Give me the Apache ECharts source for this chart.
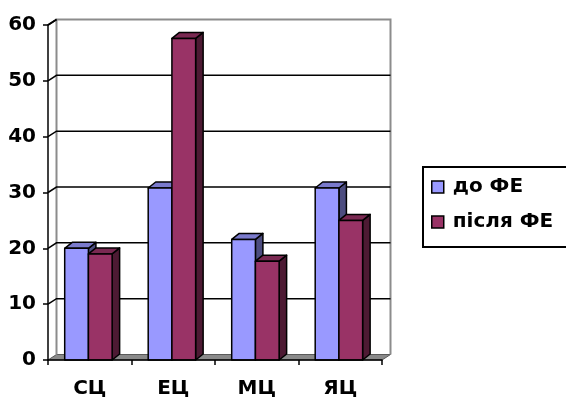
<!DOCTYPE html>
<html>
<head>
<meta charset="utf-8">
<script src="https://cdn.jsdelivr.net/npm/echarts@6/dist/echarts.min.js"></script>
<style>
  html, body { margin: 0; padding: 0; background: #fff; }
  #chart { width: 566px; height: 399px; }
</style>
</head>
<body>
<div id="chart"></div>
<script>
// Categories and the two measurement series
const categories = ['СЦ', 'ЕЦ', 'МЦ', 'ЯЦ'];
const seriesNames = ['до ФЕ', 'після ФЕ'];
const beforeValues = [20, 30.8, 21.6, 30.8];
const afterValues = [19, 57.6, 17.7, 25];
const yTicks = [0, 10, 20, 30, 40, 50, 60];

// Colours: front face, top face, side face
const palettes = [
  { front: '#9999ff', top: '#7a7acc', side: '#4d4d80' },
  { front: '#993366', top: '#7a2952', side: '#4d1a33' }
];

const FONT = 'DejaVu Sans';
const WALL_DX = 8.5, WALL_DY = -5.5;   // depth of the walls / floor
const BAR_DX = 7.5, BAR_DY = -6;       // depth of each column

const chart = echarts.init(document.getElementById('chart'), null, { renderer: 'canvas' });

// Back wall, left wall, floor and gridlines
function renderWalls(params, api) {
  const cs = params.coordSys;
  const v = api.value(0);
  const y = api.coord([0, v])[1];
  const xl = cs.x, xr = cs.x + cs.width;
  const children = [];
  if (v === 0) {
    const yt = cs.y;
    // floor
    children.push({
      type: 'polygon',
      shape: { points: [[xl, y], [xr, y], [xr + WALL_DX, y + WALL_DY], [xl + WALL_DX, y + WALL_DY]] },
      style: { fill: '#8a8a8a', stroke: '#5a5a5a', lineWidth: 1 }
    });
    // wall outline (grey)
    children.push({
      type: 'polyline',
      shape: { points: [[xl + WALL_DX, y + WALL_DY], [xl + WALL_DX, yt + WALL_DY], [xr + WALL_DX, yt + WALL_DY], [xr + WALL_DX, y + WALL_DY]] },
      style: { fill: null, stroke: '#8c8c8c', lineWidth: 2 }
    });
    children.push({
      type: 'line',
      shape: { x1: xl, y1: yt, x2: xl + WALL_DX, y2: yt + WALL_DY },
      style: { stroke: '#222', lineWidth: 1.5 }
    });
  } else {
    const pts = [[xl, y], [xl + WALL_DX, y + WALL_DY]];
    if (v < 60) pts.push([xr + WALL_DX, y + WALL_DY]);
    children.push({
      type: 'polyline',
      shape: { points: pts },
      style: { fill: null, stroke: '#000', lineWidth: 1.5 }
    });
  }
  return { type: 'group', children };
}

// 3D column: front, top and side faces from the axis scales
function makeBarRenderer(si) {
  return function (params, api) {
    const ci = api.value(0), v = api.value(1);
    const base = api.coord([ci, 0]);
    const top = api.coord([ci, v]);
    const band = api.size([1, 0])[0];
    const w = band * 0.284;
    const x0 = base[0] - band * 0.016 - (si === 0 ? w : 0);
    const ty = top[1], by = base[1];
    const p = palettes[si];
    const st = { stroke: '#000', lineWidth: 1.5, lineJoin: 'round' };
    return {
      type: 'group',
      children: [
        { type: 'polygon', shape: { points: [[x0 + w, ty], [x0 + w + BAR_DX, ty + BAR_DY], [x0 + w + BAR_DX, by + BAR_DY], [x0 + w, by]] },
          style: Object.assign({ fill: p.side }, st) },
        { type: 'polygon', shape: { points: [[x0, ty], [x0 + BAR_DX, ty + BAR_DY], [x0 + w + BAR_DX, ty + BAR_DY], [x0 + w, ty]] },
          style: Object.assign({ fill: p.top }, st) },
        { type: 'polygon', shape: { points: [[x0, ty], [x0 + w, ty], [x0 + w, by], [x0, by]] },
          style: Object.assign({ fill: p.front }, st) }
      ]
    };
  };
}

const valueSets = [beforeValues, afterValues];

const option = {
  backgroundColor: '#ffffff',
  animation: false,
  grid: { left: 48, top: 25, width: 334, height: 336, containLabel: false },
  xAxis: {
    type: 'category',
    data: categories,
    boundaryGap: true,
    axisLine: { lineStyle: { color: '#000', width: 1.5 } },
    axisTick: { show: true, length: 5, lineStyle: { color: '#000', width: 1.5 } },
    axisLabel: { color: '#000', fontFamily: FONT, fontWeight: 'bold', fontSize: 20, margin: 19 },
    splitLine: { show: false },
    z: 5
  },
  yAxis: {
    type: 'value',
    min: 0, max: 60, interval: 10,
    axisLine: { show: true, lineStyle: { color: '#000', width: 1.5 } },
    axisTick: { show: true, length: 5, lineStyle: { color: '#000', width: 1.5 } },
    axisLabel: { color: '#000', fontFamily: FONT, fontWeight: 'bold', fontSize: 20, margin: 12 },
    splitLine: { show: false },
    z: 5
  },
  // legend frame (runs past the right edge of the canvas)
  graphic: [{
    type: 'rect',
    left: 422, top: 166,
    shape: { width: 170, height: 80 },
    style: { fill: '#fff', stroke: '#000', lineWidth: 2 },
    z: 0
  }],
  legend: {
    orient: 'vertical',
    left: 431, top: 177,
    padding: 0,
    itemGap: 15,
    itemWidth: 12, itemHeight: 12,
    borderWidth: 0,
    textStyle: { color: '#000', fontFamily: FONT, fontWeight: 'bold', fontSize: 20, padding: [0, 0, 0, 4] },
    data: seriesNames.map((n, i) => ({
      name: n, icon: 'rect',
      itemStyle: { color: palettes[i].front, borderColor: '#000', borderWidth: 1.5 }
    })),
    z: 10
  },
  series: [
    {
      type: 'custom',
      name: 'walls',
      renderItem: renderWalls,
      data: yTicks.map(v => [v]),
      encode: { y: 0 },
      silent: true,
      z: 1
    }
  ].concat(seriesNames.map((name, si) => ({
    type: 'custom',
    name: name,
    renderItem: makeBarRenderer(si),
    itemStyle: { color: palettes[si].front },
    data: valueSets[si].map((v, ci) => [ci, v]),
    encode: { x: 0, y: 1 },
    z: 2 + si
  })))
};

chart.setOption(option);
</script>
</body>
</html>
